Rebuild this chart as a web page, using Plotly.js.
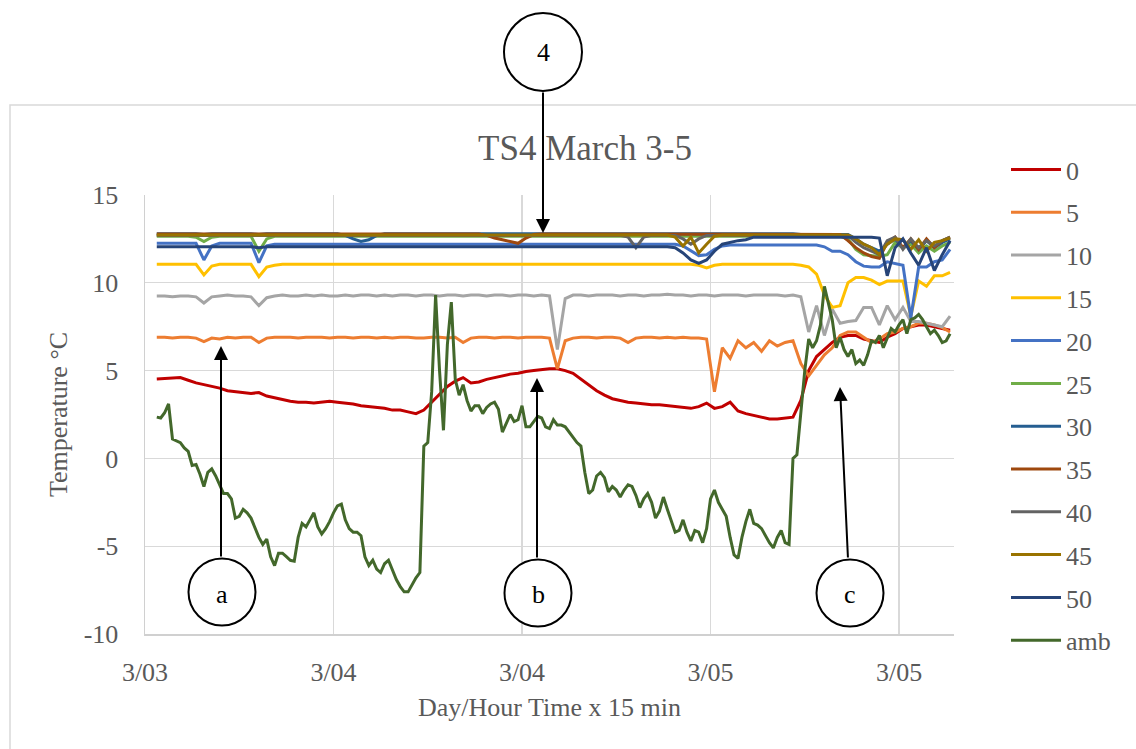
<!DOCTYPE html>
<html>
<head>
<meta charset="utf-8">
<script src="https://cdn.plot.ly/plotly-3.0.1.min.js"></script>
<style>html,body{margin:0;padding:0;background:#fff;}#chart{width:1136px;height:749px;}</style>
</head>
<body>
<div id="chart"></div>
<script>
// Time index in 15-minute steps
const tickVals = [-3, 45, 93, 141, 189];
const tickText = ["3/03", "3/04", "3/04", "3/05", "3/05"];
const yTickVals = [-10, -5, 0, 5, 10, 15];
const yTickText = ["-10", "-5", "0", "5", "10", "15"];
const seriesNames = ["0", "5", "10", "15", "20", "25", "30", "35", "40", "45", "50", "amb"];
const seriesColors = ["#c00000", "#ed7d31", "#a5a5a5", "#ffc000", "#4472c4", "#70ad47", "#255e91", "#9e480e", "#636363", "#997300", "#264478", "#43682b"];

// probe series, one value every 30 min (index 0,2,...,202)
const t0 = [4.52,4.55,4.6,4.6,4.45,4.3,4.2,4.1,4.0,3.85, 3.8,3.75,3.7,3.75,3.55,3.45,3.35,3.25,3.2,3.2,
 3.15,3.2,3.25,3.2,3.15,3.1,3.0,2.95,2.9,2.85, 2.75,2.75,2.65,2.55,2.75,3.2,3.7,4.1,4.4,4.6,
 4.3,4.35,4.5,4.6,4.7,4.8,4.85,4.95,5.0,5.05, 5.1,5.1,5.0,4.85,4.5,4.15,3.85,3.6,3.4,3.3,
 3.2,3.15,3.1,3.05,3.05,3.0,2.95,2.9,2.85,2.95, 3.15,2.85,2.95,3.2,2.7,2.55,2.45,2.35,2.25,2.25,
 2.3,2.35,3.3,5.0,5.8,6.2,6.6,6.9,7.0,7.0, 6.8,6.7,6.6,6.9,7.1,7.4,7.5,7.6,7.6,7.5, 7.4,7.3];
const t5 = [6.9,6.9,6.85,6.9,6.9,6.85,6.65,6.85,6.8,6.9, 6.85,6.9,6.9,6.6,6.85,6.9,6.9,6.9,6.85,6.9,
 6.9,6.9,6.85,6.9,6.9,6.85,6.9,6.9,6.85,6.9, 6.85,6.9,6.9,6.85,6.85,6.9,6.9,6.85,6.9,6.6,
 6.85,6.9,6.9,6.85,6.9,6.9,6.85,6.9,6.9,6.9, 6.85,5.1,6.7,6.85,6.9,6.9,6.85,6.9,6.9,6.85,
 6.6,6.85,6.9,6.9,6.85,6.9,6.85,6.9,6.85,6.85, 6.8,3.8,6.3,5.7,6.7,6.3,6.6,6.1,6.7,6.4,
 6.6,6.7,5.4,4.7,5.3,5.9,6.3,7.0,7.2,7.2, 6.9,6.6,6.8,7.1,7.2,7.4,7.5,7.7,7.7,7.6, 7.45,7.2];
const t10 = [9.25,9.25,9.2,9.25,9.25,9.2,8.85,9.2,9.25,9.3, 9.25,9.25,9.2,8.7,9.15,9.25,9.3,9.25,9.25,9.3,
 9.25,9.3,9.25,9.25,9.3,9.25,9.3,9.3,9.25,9.3, 9.25,9.3,9.3,9.25,9.3,9.3,9.25,9.3,9.3,9.25,
 9.3,9.3,9.25,9.3,9.3,9.25,9.3,9.3,9.25,9.3, 9.25,6.2,9.1,9.3,9.3,9.25,9.3,9.3,9.3,9.25,
 9.3,9.3,9.25,9.3,9.3,9.35,9.3,9.3,9.25,9.3, 9.3,9.25,9.3,9.3,9.3,9.25,9.3,9.3,9.3,9.3,
 9.25,9.3,9.2,7.2,8.7,7.0,8.5,7.7,7.8,7.85, 8.6,8.6,7.6,8.7,7.9,8.6,7.8,7.8,7.7,7.6, 7.5,8.1];
const t15 = [11.05,11.05,11.05,11.05,11.05,11.05,10.45,10.95,11.05,11.05, 11.05,11.05,11.05,10.35,10.9,11.0,11.05,11.05,11.05,11.05,
 11.05,11.05,11.05,11.05,11.05,11.05,11.05,11.05,11.05,11.05, 11.05,11.05,11.05,11.05,11.05,11.05,11.05,11.05,11.05,11.05,
 11.05,11.05,11.05,11.05,11.05,11.05,11.05,11.05,11.05,11.05, 11.05,11.05,11.05,11.05,11.05,11.05,11.05,11.05,11.05,11.05,
 11.05,11.05,11.05,11.05,11.05,11.05,11.05,11.05,11.05,11.0, 10.85,11.0,11.05,11.05,11.05,11.05,11.05,11.05,11.05,11.05,
 11.05,11.05,11.0,10.9,10.5,9.3,8.6,8.7,10.0,10.3, 10.3,10.15,9.9,10.1,10.1,10.1,8.1,10.1,9.8,10.4, 10.4,10.6];
const t20 = [12.25,12.25,12.25,12.25,12.25,12.25,11.3,12.1,12.25,12.25, 12.25,12.25,12.25,11.15,12.1,12.2,12.2,12.2,12.2,12.2,
 12.2,12.2,12.2,12.2,12.2,12.2,12.2,12.2,12.2,12.2, 12.2,12.2,12.2,12.2,12.2,12.2,12.2,12.2,12.2,12.2,
 12.2,12.2,12.2,12.2,12.2,12.2,12.2,12.2,12.2,12.2, 12.2,12.2,12.2,12.2,12.2,12.2,12.2,12.2,12.2,12.2,
 12.2,12.2,12.2,12.2,12.2,12.2,12.2,12.1,11.8,11.55, 11.6,11.9,12.1,12.15,12.15,12.15,12.15,12.15,12.15,12.15,
 12.15,12.15,12.15,12.15,12.15,12.05,11.8,11.8,11.6,11.2, 10.95,10.9,10.9,11.2,11.1,11.0,8.0,10.9,10.9,11.2, 11.3,11.9];
const t25 = [12.65,12.65,12.65,12.65,12.65,12.6,12.35,12.6,12.65,12.65, 12.65,12.65,12.65,11.8,12.5,12.65,12.65,12.65,12.65,12.65,
 12.65,12.65,12.65,12.65,12.65,12.65,12.65,12.65,12.65,12.65, 12.65,12.65,12.65,12.65,12.65,12.65,12.65,12.65,12.65,12.65,
 12.65,12.65,12.65,12.65,12.65,12.65,12.65,12.65,12.65,12.65, 12.65,12.65,12.65,12.65,12.65,12.65,12.65,12.65,12.65,12.65,
 12.65,12.65,12.65,12.65,12.65,12.65,12.65,12.65,12.65,12.65, 12.65,12.65,12.65,12.65,12.65,12.65,12.65,12.65,12.65,12.65,
 12.65,12.65,12.65,12.65,12.65,12.65,12.65,12.65,12.5,11.9, 11.6,11.55,11.5,11.6,12.3,12.0,12.2,11.7,12.1,11.8, 12.1,12.3];
const t30 = [12.8,12.8,12.8,12.8,12.8,12.8,12.75,12.8,12.8,12.8, 12.8,12.8,12.8,12.75,12.8,12.8,12.8,12.8,12.8,12.8,
 12.8,12.8,12.8,12.8,12.7,12.5,12.35,12.45,12.7,12.8, 12.8,12.8,12.8,12.8,12.8,12.8,12.8,12.8,12.8,12.8,
 12.8,12.8,12.8,12.8,12.8,12.8,12.8,12.8,12.8,12.8, 12.8,12.8,12.8,12.8,12.8,12.8,12.8,12.8,12.8,12.8,
 12.8,12.8,12.8,12.8,12.8,12.8,12.8,12.8,12.8,12.8, 12.8,12.8,12.8,12.8,12.8,12.8,12.8,12.8,12.8,12.8,
 12.8,12.8,12.75,12.75,12.75,12.75,12.75,12.75,12.75,12.5, 12.2,12.0,11.8,12.2,12.5,12.0,12.4,11.9,12.4,12.0, 12.3,12.5];
const t35 = [12.78,12.78,12.78,12.78,12.78,12.78,12.78,12.78,12.78,12.78, 12.78,12.78,12.78,12.78,12.78,12.78,12.78,12.78,12.78,12.78,
 12.78,12.78,12.78,12.78,12.78,12.78,12.78,12.78,12.78,12.78, 12.78,12.78,12.78,12.78,12.78,12.78,12.78,12.78,12.78,12.78,
 12.78,12.78,12.7,12.55,12.45,12.35,12.25,12.55,12.75,12.78, 12.78,12.78,12.78,12.78,12.78,12.78,12.78,12.78,12.78,12.78,
 12.78,12.78,12.78,12.78,12.78,12.78,12.78,12.78,12.78,12.78, 12.78,12.78,12.78,12.78,12.78,12.78,12.78,12.78,12.78,12.78,
 12.78,12.78,12.75,12.75,12.75,12.75,12.75,12.75,12.4,12.0, 11.7,11.5,11.4,12.3,12.6,12.0,12.5,11.9,12.5,12.0, 12.4,12.6];
const t40 = [12.7,12.7,12.7,12.7,12.7,12.7,12.7,12.7,12.7,12.7, 12.7,12.7,12.7,12.7,12.7,12.7,12.7,12.7,12.7,12.7,
 12.7,12.7,12.7,12.7,12.7,12.7,12.7,12.7,12.7,12.7, 12.7,12.7,12.7,12.7,12.7,12.7,12.7,12.7,12.7,12.7,
 12.7,12.7,12.7,12.7,12.7,12.7,12.7,12.7,12.7,12.7, 12.7,12.7,12.7,12.7,12.7,12.7,12.7,12.7,12.7,12.7,
 12.6,12.0,12.6,12.7,12.7,12.7,12.7,12.5,12.2,12.5, 12.7,12.7,12.7,12.7,12.7,12.7,12.7,12.7,12.7,12.7,
 12.7,12.7,12.7,12.7,12.7,12.7,12.7,12.7,12.7,12.3, 12.0,11.8,11.6,12.4,12.6,11.9,12.5,12.0,12.4,12.1, 12.4,12.6];
const t45 = [12.72,12.72,12.72,12.72,12.72,12.72,12.72,12.72,12.72,12.72, 12.72,12.72,12.72,12.72,12.72,12.72,12.72,12.72,12.72,12.72,
 12.72,12.72,12.72,12.72,12.72,12.72,12.72,12.72,12.72,12.72, 12.72,12.72,12.72,12.72,12.72,12.72,12.72,12.72,12.72,12.72,
 12.72,12.72,12.72,12.72,12.72,12.72,12.72,12.72,12.72,12.72, 12.72,12.72,12.72,12.72,12.72,12.72,12.72,12.72,12.72,12.72,
 12.72,12.72,12.72,12.72,12.72,12.72,12.6,12.1,12.6,11.7, 12.2,12.65,12.72,12.72,12.72,12.72,12.72,12.72,12.72,12.72,
 12.72,12.72,12.72,12.72,12.72,12.72,12.72,12.72,12.72,12.5, 12.2,12.0,11.6,12.2,12.5,12.45,11.9,12.45,11.8,12.3, 12.4,12.55];
const t50 = [12.05,12.05,12.05,12.05,12.05,12.05,12.05,12.05,12.05,12.05, 12.05,12.05,12.05,12.0,12.05,12.05,12.05,12.05,12.05,12.05,
 12.05,12.05,12.05,12.05,12.05,12.05,12.05,12.05,12.05,12.05, 12.05,12.05,12.05,12.05,12.05,12.05,12.05,12.05,12.05,12.05,
 12.05,12.05,12.05,12.05,12.05,12.05,12.05,12.05,12.05,12.05, 12.05,12.05,12.05,12.05,12.05,12.05,12.05,12.05,12.05,12.05,
 12.05,12.05,12.05,12.05,12.05,12.05,12.0,11.7,11.3,11.1, 11.3,11.8,12.2,12.3,12.4,12.45,12.6,12.6,12.6,12.6,
 12.6,12.6,12.6,12.6,12.6,12.6,12.6,12.6,12.6,12.6, 12.6,12.6,12.55,10.4,12.0,12.5,11.7,11.0,12.0,10.7, 11.6,12.4];

// ambient, one value every 15 min (index 0..202)
const tAmb = [2.35,2.3,2.6,3.1,1.1,1.0,0.9,0.6,0.4,-0.4, -0.35,-0.9,-1.6,-0.8,-0.6,-1.0,-1.5,-2.0,-2.0,-2.3,
 -3.4,-3.3,-2.9,-3.1,-3.4,-4.0,-4.5,-4.9,-4.6,-5.6, -6.1,-5.4,-5.4,-5.6,-5.8,-5.85,-4.5,-3.7,-3.9,-3.5,
 -3.1,-3.9,-4.3,-4.0,-3.6,-3.1,-2.7,-2.6,-3.5,-4.0, -4.2,-4.2,-4.4,-5.6,-6.1,-5.8,-6.3,-6.5,-6.0,-5.8,
 -6.4,-6.9,-7.3,-7.6,-7.6,-7.2,-6.8,-6.5,0.7,0.9, 3.8,9.3,5.0,1.6,6.5,8.9,4.5,3.6,4.2,3.3,
 2.7,3.0,3.0,2.55,2.9,3.1,3.2,2.8,1.5,2.0, 2.5,2.1,2.2,3.0,1.8,1.8,2.1,2.4,2.3,1.8,
 1.7,2.2,1.9,1.9,1.8,1.5,1.2,0.9,0.7,-0.8, -2.0,-1.8,-1.0,-0.8,-1.1,-1.9,-1.6,-1.8,-2.2,-1.8,
 -1.5,-1.6,-2.1,-2.8,-2.3,-2.0,-2.5,-3.4,-3.0,-2.2, -2.9,-3.5,-4.2,-4.1,-3.5,-4.2,-4.7,-4.1,-4.2,-4.8,
 -4.0,-2.3,-1.8,-2.5,-2.9,-3.3,-4.5,-5.5,-5.7,-4.5, -3.6,-2.9,-3.7,-3.8,-4.0,-4.4,-4.8,-5.1,-4.5,-4.1,
 -4.8,-4.9,0.0,0.2,2.5,5.0,6.8,6.3,6.7,7.6, 9.8,8.9,7.9,6.3,6.9,6.2,5.8,6.2,5.4,5.6,
 5.3,5.9,6.7,6.6,7.0,6.3,6.9,7.4,7.2,7.6, 7.9,7.1,7.9,8.0,8.2,7.9,7.5,7.1,7.3,7.0, 6.6,6.7,7.1];

const probeSeries = [t0, t5, t10, t15, t20, t25, t30, t35, t40, t45, t50];
const xProbe = t0.map((_, i) => i * 2);
const xAmb = tAmb.map((_, i) => i);

const FONT = "Liberation Serif, Times New Roman, serif";
const LW = 3;
const traces = [];
probeSeries.forEach((ys, i) => {
  traces.push({x: xProbe, y: ys, type: "scatter", mode: "lines", name: seriesNames[i],
    legendgroup: "g" + i, line: {color: seriesColors[i], width: LW}, hoverinfo: "skip"});
});
traces.push({x: xAmb, y: tAmb, type: "scatter", mode: "lines", name: seriesNames[11],
  legendgroup: "g11", line: {color: seriesColors[11], width: LW}, hoverinfo: "skip"});

// pixel -> paper helpers (plot area 145..954 x, 195..634 y)
const L = 145, R = 954, T = 195, B = 634;
const px = p => (p - L) / (R - L);
const py = p => (B - p) / (B - T);

function circle(cx, cy, r) {
  return {type: "circle", xref: "paper", yref: "paper", layer: "above",
    x0: px(cx - r), x1: px(cx + r), y0: py(cy + r), y1: py(cy - r),
    line: {color: "#000", width: 2}, fillcolor: "#fff"};
}
function arrow(tx, ty, sx, sy) {
  return {xref: "paper", yref: "paper", x: px(tx), y: py(ty), ax: sx - tx, ay: sy - ty,
    axref: "pixel", ayref: "pixel", text: "", showarrow: true, arrowhead: 2, arrowsize: 1.4,
    arrowwidth: 2, arrowcolor: "#000", standoff: 0, startstandoff: 0};
}
function label(cx, cy, t) {
  return {xref: "paper", yref: "paper", x: px(cx), y: py(cy), text: t, showarrow: false,
    xanchor: "center", yanchor: "middle", font: {family: FONT, size: 26, color: "#000"}};
}

const layout = {
  width: 1136, height: 749,
  margin: {l: L, r: 1136 - R, t: T, b: 749 - B},
  paper_bgcolor: "#fff", plot_bgcolor: "#fff",
  font: {family: FONT, color: "#595959", size: 26},
  title: {text: "TS4 March 3-5", font: {family: FONT, size: 35, color: "#595959"},
    x: px(585), xref: "paper", xanchor: "center", y: 1 - 148 / 749, yref: "container", yanchor: "middle"},
  xaxis: {range: [-3, 203], tickmode: "array", tickvals: tickVals, ticktext: tickText,
    showgrid: true, gridcolor: "#d9d9d9", gridwidth: 1.3, zeroline: false,
    showline: true, linecolor: "#d0d0d0", linewidth: 1.5, ticks: "", ticklabelstandoff: 14,
    tickfont: {family: FONT, size: 26, color: "#595959"},
    title: {text: "Day/Hour Time x 15 min", font: {family: FONT, size: 26, color: "#595959"}, standoff: 12}},
  yaxis: {range: [-10, 15], tickmode: "array", tickvals: yTickVals, ticktext: yTickText,
    showgrid: true, gridcolor: "#d9d9d9", gridwidth: 1.3, zeroline: false,
    showline: true, linecolor: "#d0d0d0", linewidth: 1.5, ticks: "", ticklabelstandoff: 20,
    tickfont: {family: FONT, size: 26, color: "#595959"},
    title: {text: "Temperature °C", font: {family: FONT, size: 26, color: "#595959"}, standoff: 8}},
  showlegend: true,
  legend: {x: px(1006), xanchor: "left", y: py(146), yanchor: "top", tracegroupgap: 6,
    itemwidth: 50, maxheight: 640, font: {family: FONT, size: 26, color: "#595959"}, bgcolor: "rgba(0,0,0,0)"},
  shapes: [
    {type: "rect", xref: "paper", yref: "paper", x0: px(10), x1: px(1300), y0: py(900), y1: py(105),
      line: {color: "#d9d9d9", width: 1.5}, fillcolor: "rgba(0,0,0,0)", layer: "below"},
    circle(543, 52, 39), circle(222, 592, 33.5), circle(538, 593, 33.5), circle(850, 593, 33.5)
  ],
  annotations: [
    arrow(543, 233, 543, 91), arrow(221, 346, 221, 558), arrow(537, 378, 537, 559), arrow(840, 387, 848, 559),
    label(543, 52, "4"), label(222, 594, "a"), label(538, 594, "b"), label(850, 594, "c")
  ]
};

Plotly.newPlot("chart", traces, layout, {staticPlot: true, displayModeBar: false});
</script>
</body>
</html>
